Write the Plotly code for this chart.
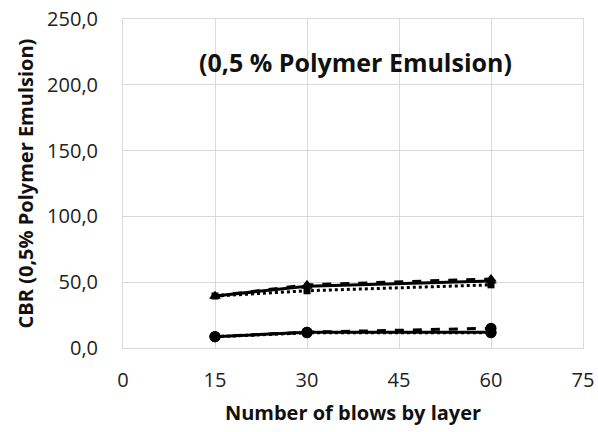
import plotly.graph_objects as go

# Number of blows per layer
blows = [15, 30, 60]

# CBR values (%), upper group (triangle / square markers)
cbr_a1 = [39.5, 47.0, 51.0]
cbr_a2 = [39.5, 48.0, 52.5]
cbr_a3 = [39.5, 43.5, 48.0]

# CBR values (%), lower group (circle markers)
cbr_b1 = [8.6, 12.0, 12.0]
cbr_b2 = [8.6, 12.0, 15.0]
cbr_b3 = [8.6, 11.5, 11.5]

x_ticks = [0, 15, 30, 45, 60, 75]
y_ticks = [0, 50, 100, 150, 200, 250]
y_tick_text = ["0,0", "50,0", "100,0", "150,0", "200,0", "250,0"]

BLACK = "#000000"
FONT = "Open Sans"

# dotted series first so the solid/dashed markers sit on top
series = [
    (cbr_a3, "dot", "square", 7),
    (cbr_b3, "dot", "circle", 11),
    (cbr_a1, "solid", "triangle-up", 10),
    (cbr_b1, "solid", "circle", 11),
    (cbr_a2, "dash", "triangle-up", 10),
    (cbr_b2, "dash", "circle", 11),
]

fig = go.Figure()
for ys, dash, sym, size in series:
    fig.add_trace(go.Scatter(
        x=blows, y=ys, mode="lines+markers",
        line=dict(color=BLACK, width=3, dash=dash),
        marker=dict(symbol=sym, size=size, color=BLACK),
        showlegend=False,
    ))

fig.add_annotation(
    x=0.505, y=0.87, xref="paper", yref="paper",
    xanchor="center", yanchor="middle",
    text="<b>(0,5 % Polymer Emulsion)</b>", showarrow=False,
    font=dict(family=FONT, size=25, color="#111111"),
)

axis_common = dict(
    showgrid=True, gridcolor="#d9d9d9", gridwidth=1,
    showline=True, linecolor="#d9d9d9", linewidth=1, mirror=True,
    zeroline=False, ticks="", automargin=False,
    tickfont=dict(family=FONT, size=20, color="#222222"),
)

fig.update_layout(
    width=598, height=432,
    margin=dict(l=123, r=15, t=19, b=84),
    paper_bgcolor="white", plot_bgcolor="white",
    xaxis=dict(
        range=[0, 75], tickvals=x_ticks, ticklabelstandoff=14,
        title=dict(text="<b>Number of blows by layer</b>",
                   font=dict(family=FONT, size=20, color="#111111"), standoff=13),
        **axis_common,
    ),
    yaxis=dict(
        range=[0, 250], tickvals=y_ticks, ticktext=y_tick_text, ticklabelstandoff=20,
        title=dict(text="<b>CBR (0,5% Polymer Emulsion)</b>",
                   font=dict(family=FONT, size=20, color="#111111"), standoff=8),
        **axis_common,
    ),
)

fig.write_html("out.html")
